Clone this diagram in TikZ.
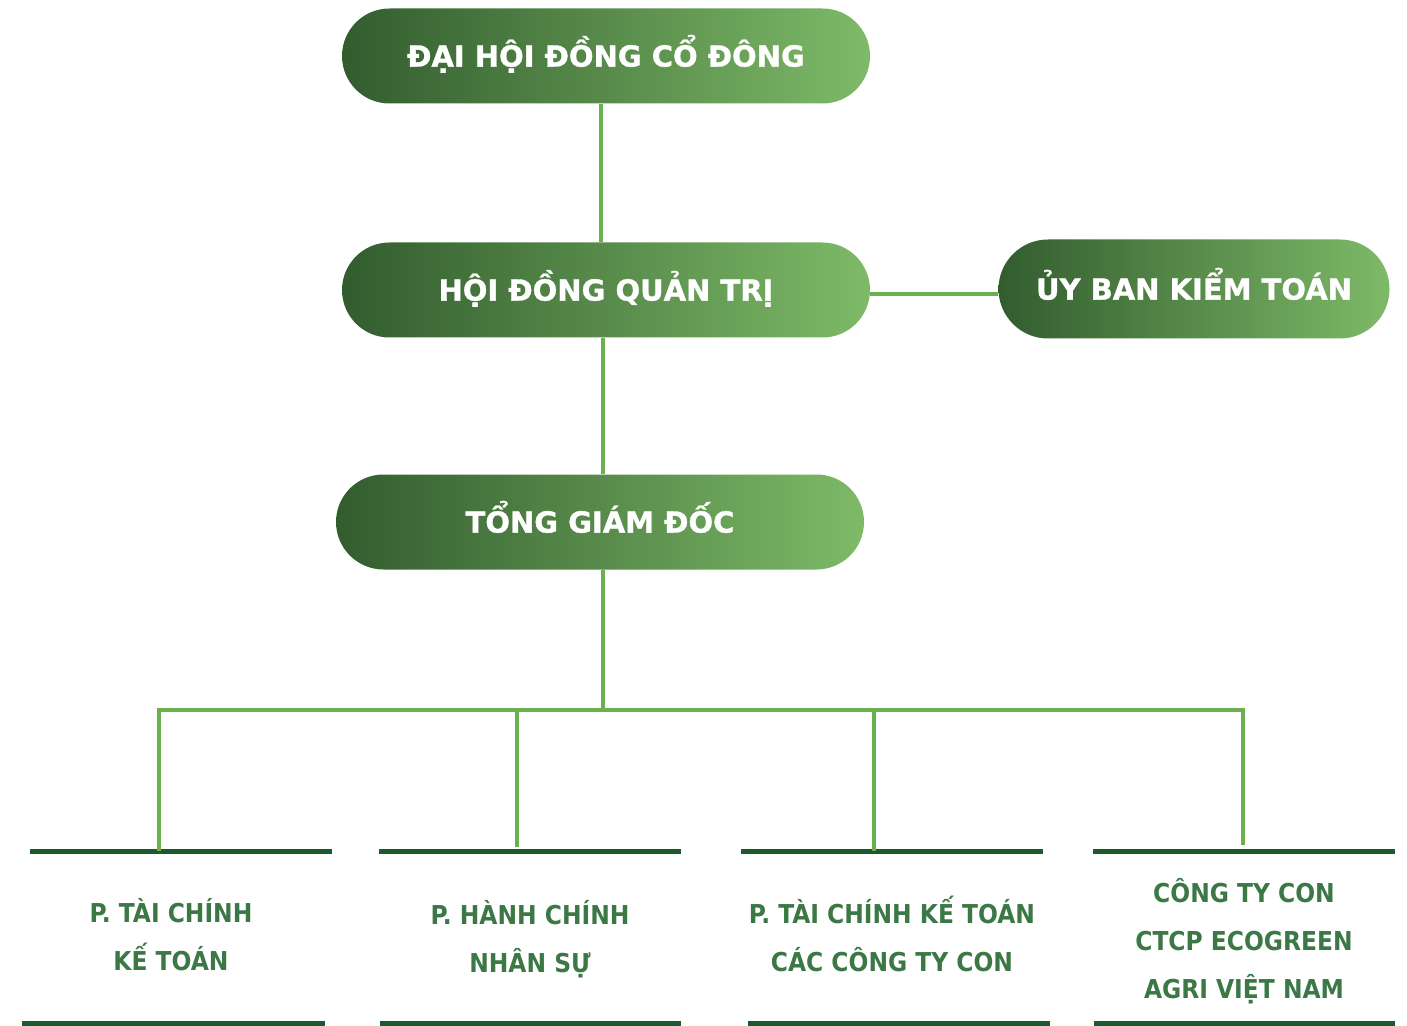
\documentclass[tikz,border=0pt]{standalone}
\usepackage{fontspec}
\usepackage{tikz}
\setmainfont{DejaVu Sans}
\newfontfamily\pillfont{DejaVu Sans}[BoldFont={* Bold},BoldFeatures={FakeBold=1.2}]
\newfontfamily\unitfont{DejaVu Sans Condensed}[BoldFont={* Bold}]
\definecolor{PillLeft}{RGB}{50,92,46}
\definecolor{PillRight}{RGB}{126,186,104}
\definecolor{LinkGreen}{RGB}{106,176,79}
\definecolor{BarGreen}{RGB}{27,90,42}
\definecolor{UnitText}{RGB}{60,120,70}

\begin{document}
\begin{tikzpicture}[x=0.5pt,y=-0.5pt,
pill/.style n args={2}{rectangle,inner sep=0pt,minimum width=#1*0.5pt,minimum height=#2*0.5pt,rounded corners=#2*0.25pt,left color=PillLeft,right color=PillRight,text=white,text height=10.6pt,text depth=0pt,font=\pillfont\bfseries\fontsize{14.5}{17}\selectfont},
link/.style={LinkGreen,line width=2pt},
bar/.style={BarGreen,line width=2.5pt},
unit/.style={align=center,text=UnitText,font=\unitfont\bfseries\fontsize{13}{24}\selectfont}]
\useasboundingbox (0,0) rectangle (1407,1026);
% boards
\node[pill={528}{95}] (dhdcd) at (606,56) {ĐẠI HỘI ĐỒNG CỔ ĐÔNG};
\node[pill={528}{95}] (hdqt) at (606,290) {HỘI ĐỒNG QUẢN TRỊ};
\node[pill={391}{99}] (ubkt) at (1194,289) {ỦY BAN KIỂM TOÁN};
\node[pill={528}{95}] (tgd) at (600,522) {TỔNG GIÁM ĐỐC};
\coordinate (bus) at (603,710);
\coordinate (side) at (0,294);
\draw[link] (dhdcd.south -| 601,0) -- (hdqt.north -| 601,0);
\draw[link] (hdqt.south -| bus) -- (tgd.north -| bus);
\draw[link] (hdqt.east |- side) -- (ubkt.west |- side);
\draw[link] (tgd.south -| bus) -- (bus);
% units
\foreach \x/\y/\n in %
{181/851/1,530/851/2,892/851/3,1244/851/4} {
   \coordinate (top\n) at (\x,\y);
   \draw[bar] (\x-151,\y) -- (\x+151,\y);
}
\draw[bar] (22,1023) -- (325,1023);
\draw[bar] (380,1023) -- (681,1023);
\draw[bar] (748,1023) -- (1050,1023);
\draw[bar] (1094,1023) -- (1395,1023);
\coordinate (drop1) at (159,851);
\coordinate (drop2) at (517,847);
\coordinate (drop3) at (874,851);
\coordinate (drop4) at (1243,845);
\draw[link] (drop1) |- (bus) -| (drop4);
\draw[link] (drop2) -- (drop2 |- bus);
\draw[link] (drop3) -- (drop3 |- bus);
\node[unit] (ptckt) at (171,935) {P. TÀI CHÍNH\\KẾ TOÁN};
\node[unit] (phcns) at (530,939) {P. HÀNH CHÍNH\\NHÂN SỰ};
\node[unit] (ptkcty) at (892,934) {P. TÀI CHÍNH KẾ TOÁN\\CÁC CÔNG TY CON};
\node[unit] (ctycon) at (1244,941) {CÔNG TY CON\\CTCP ECOGREEN\\AGRI VIỆT NAM};
\end{tikzpicture}
\end{document}
